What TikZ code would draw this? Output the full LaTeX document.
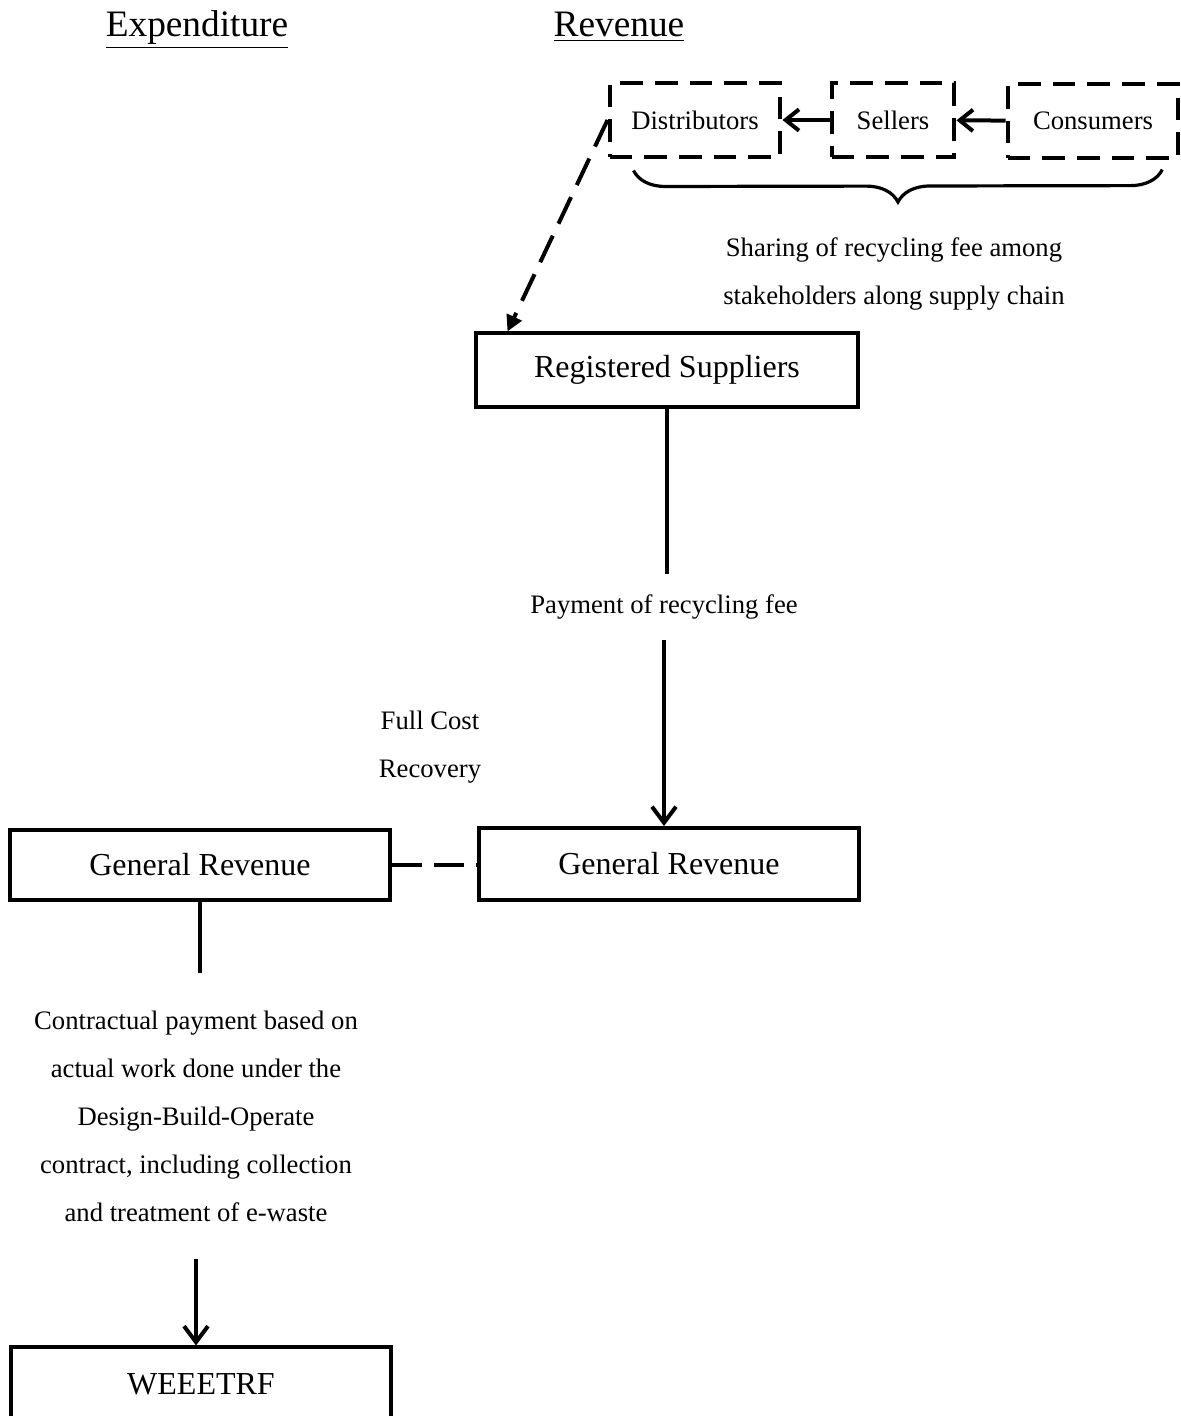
\documentclass[tikz,border=0pt]{standalone}
\usepackage{fontspec}
\setmainfont{Liberation Serif}
\usetikzlibrary{arrows.meta,
                calc, %for relative coord calculations
                decorations.pathreplacing, %for braces
                positioning}

\begin{document}
\begin{tikzpicture}[x=0.375pt, y=-0.375pt,
                    Box/.style={draw, line width=1.5pt, inner sep=0pt, minimum width=142.5pt, minimum height=27pt, font=\fontsize{12}{14}\selectfont},
                    Chain/.style={draw, line width=1.5pt, dash pattern=on 8.5pt off 4.5pt, inner sep=0pt, minimum height=27.4pt, font=\fontsize{10}{12}\selectfont},
                    Note/.style={align=center, inner sep=0pt, font=\fontsize{10}{18}\selectfont},
                    Head/.style={anchor=base, inner sep=0pt, font=\fontsize{14}{16}\selectfont},
                    Flow/.style={line width=1.5pt}
                    ]
    \useasboundingbox (0,0) rectangle (1181,1416);
    \clip (0,0) rectangle (1181,1416);

    % HEADINGS %
    \node[Head] (HeadExp) at (197,36) {\underline{Expenditure}};
    \node[Head] (HeadRev) at (619,36) {\underline{Revenue}};

    % SUPPLY CHAIN %
    \node[Chain, minimum width=64.1pt] (Dist) at (695,120) {Distributors};
    \node[Chain, minimum width=46.1pt] (Sell) at (893,120) {Sellers};
    \node[Chain, minimum width=64pt] (Cons) at (1093,121) {\raisebox{-1pt}{Consumers}};
    \draw[Flow, -{Straight Barb[length=5pt,width=8pt]}] (Sell) -- (Dist);
    \draw[Flow, -{Straight Barb[length=5pt,width=8pt]}] (Cons) -- (Sell);

    \draw[decorate, decoration={brace, mirror, amplitude=12pt}, line width=1.2pt]
        ($(Dist.south west)+(26,12)$) -- ($(Cons.south east)+(-18,10)$);
    \node[Note] (ShareNote) at (894,274) {Sharing of recycling fee among\\stakeholders along supply chain};

    % REVENUE SIDE %
    \node[Box, minimum width=142.9pt, minimum height=27.4pt] (RegSup) at (667,370) {Registered Suppliers};
    \draw[Flow, dash pattern=on 11pt off 5pt, -{Triangle[length=6pt,width=6pt]}]
        (Dist.west) -- ($(RegSup.north west)+(33,0)$);

    \node[Note, minimum height=24.4pt] (PayNote) at (664,607) {Payment of recycling fee};
    \node[Box] (GenRevR) at (669,864) {General Revenue};
    \draw[Flow] (RegSup.south) -- (RegSup.south |- PayNote.north);
    \draw[Flow, -{Straight Barb[length=6pt,width=9pt]}] (PayNote.south) -- (PayNote.south |- GenRevR.north);

    \node[Note] (CostNote) at (430,747) {Full Cost\\Recovery};

    % EXPENDITURE SIDE %
    \node[Box, minimum height=26.6pt] (GenRevL) at (200,865) {General Revenue};
    \draw[Flow, dash pattern=on 11.25pt off 4.5pt] (GenRevL.east) -- (GenRevL.east -| GenRevR.west);

    \node[Note, minimum height=106.9pt] (ContractNote) at (196,1116) {Contractual payment based on\\actual work done under the\\Design-Build-Operate\\contract, including collection\\and treatment of e-waste};
    \node[Box, minimum height=27.4pt] (Fund) at (201,1384) {WEEETRF};
    \draw[Flow] (GenRevL.south) -- (GenRevL.south |- ContractNote.north);
    \draw[Flow, -{Straight Barb[length=6pt,width=9pt]}] (ContractNote.south) -- (ContractNote.south |- Fund.north);

\end{tikzpicture}
\end{document}
